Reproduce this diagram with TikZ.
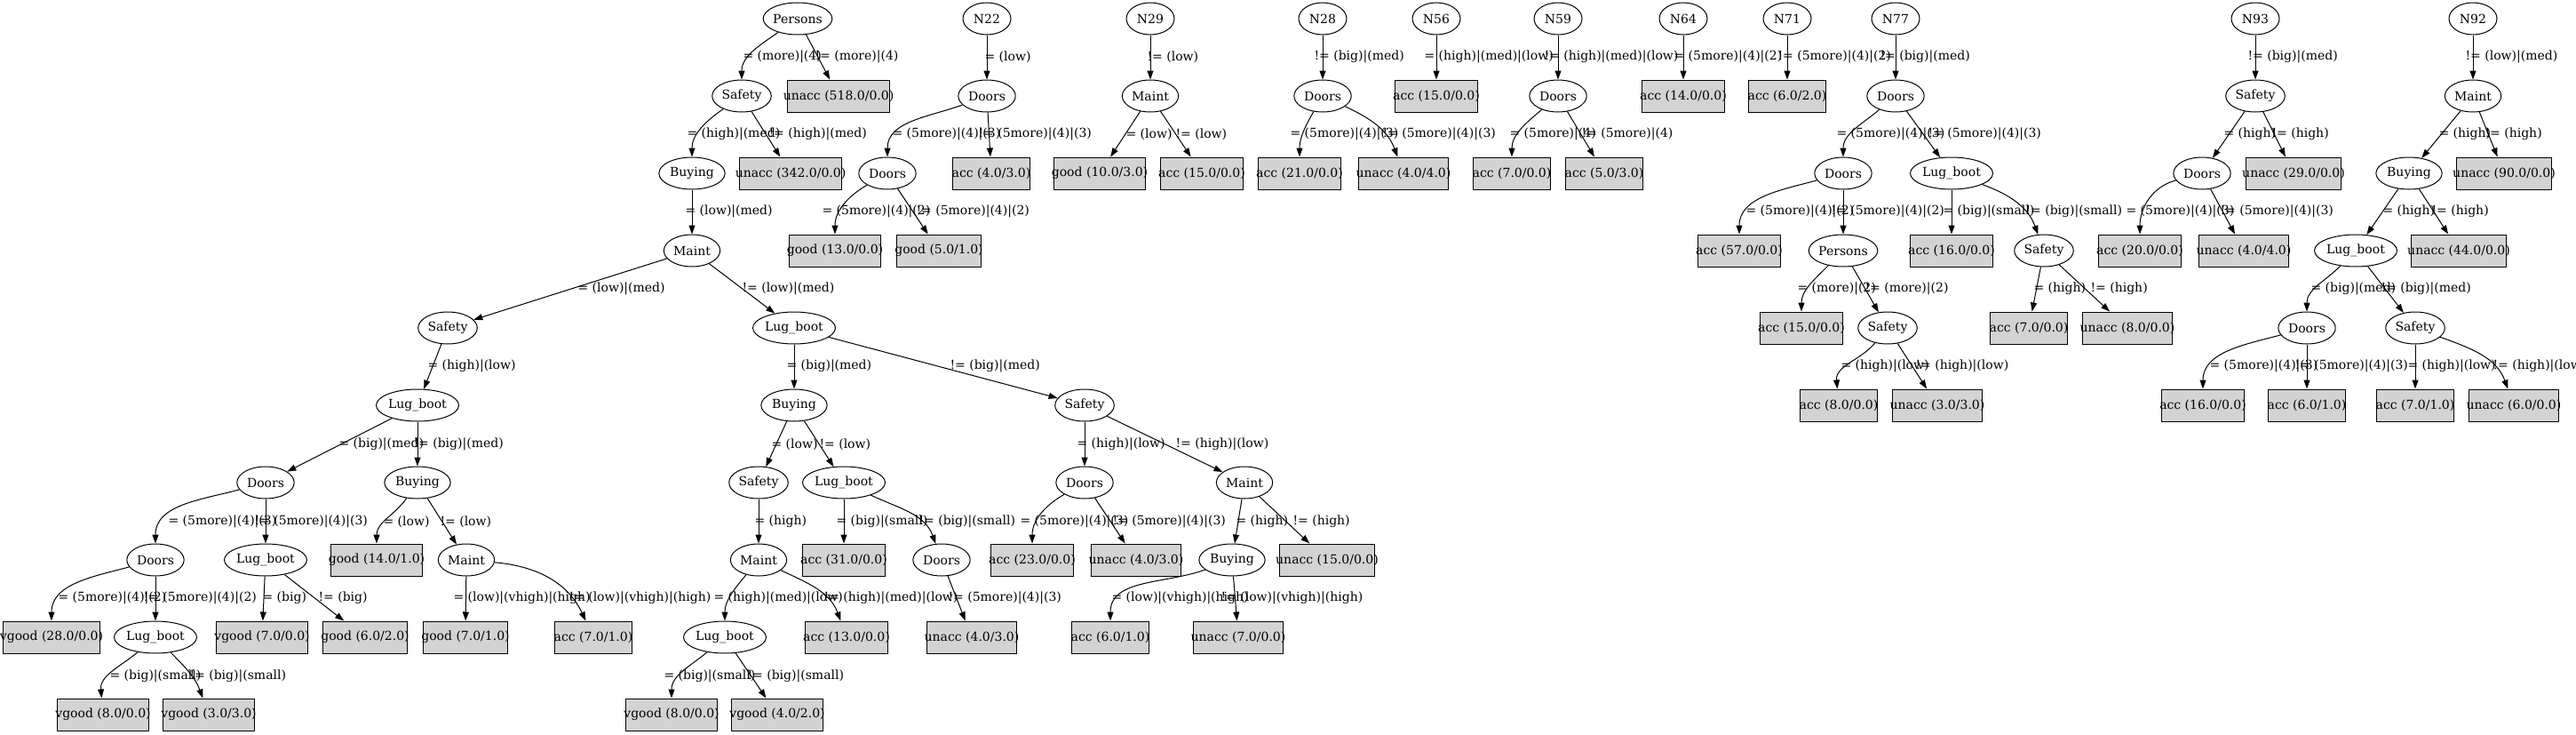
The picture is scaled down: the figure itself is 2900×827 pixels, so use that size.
\documentclass[tikz,border=0pt]{standalone}
\usepackage{fontspec}
\setmainfont{DejaVu Serif}
\newfontfamily\gvmetric{Liberation Serif}
\usetikzlibrary{arrows.meta,shapes.geometric}
\definecolor{LeafFill}{HTML}{D3D3D3}
\newlength{\gvwd}
% box width taken from the Times estimate, text may hang over
\newcommand{\gv}[1]{\settowidth{\gvwd}{\gvmetric #1}\makebox[\gvwd][c]{#1}}

\begin{document}
\begin{tikzpicture}[
  x=1bp, y=-1bp,
  every node/.style={font=\fontsize{14bp}{16bp}\selectfont},
  st/.style={ellipse, draw, line width=1bp, inner xsep=5.66bp, inner ysep=0pt,
             minimum width=54bp, minimum height=36bp},
  lf/.style={rectangle, draw, line width=1bp, fill=LeafFill, inner xsep=8bp,
             inner ysep=0pt, minimum height=36bp},
  lbl/.style={anchor=west, inner sep=0pt},
  edge/.style={->, line width=1bp},
  >={Triangle[length=10bp,width=7bp]}]
  \useasboundingbox (0,0) rectangle (2900,827);

  % tree rooted at Persons
  \node[st] (aPer)  at (898,21)  {\gv{Persons}};
  \node[st] (aSaf)  at (835,108) {\gv{Safety}};
  \node[lf] (aU518) at (944,108) {\gv{unacc (518.0/0.0)}};
  \node[st] (aBuy)  at (779,195) {\gv{Buying}};
  \node[lf] (aU342) at (890,195) {\gv{unacc (342.0/0.0)}};
  \node[st] (aMnt)  at (779,282) {\gv{Maint}};
  \node[st] (aSafL) at (504,369) {\gv{Safety}};
  \node[st] (aLug)  at (894,369) {\gv{Lug\_boot}};
  \node[st] (aLugL) at (470,456) {\gv{Lug\_boot}};
  \node[st] (aDrs)  at (299,543) {\gv{Doors}};
  \node[st] (aBuyL) at (470,543) {\gv{Buying}};
  \node[st] (aDrs2) at (175,630) {\gv{Doors}};
  \node[st] (aLug2) at (299,630) {\gv{Lug\_boot}};
  \node[lf] (aG14)  at (424,630) {\gv{good (14.0/1.0)}};
  \node[st] (aMntL) at (525,630) {\gv{Maint}};
  \node[lf] (aV28)  at (58,717)  {\gv{vgood (28.0/0.0)}};
  \node[st] (aLug3) at (175,717) {\gv{Lug\_boot}};
  \node[lf] (aV7)   at (295,717) {\gv{vgood (7.0/0.0)}};
  \node[lf] (aG6)   at (411,717) {\gv{good (6.0/2.0)}};
  \node[lf] (aG7)   at (524,717) {\gv{good (7.0/1.0)}};
  \node[lf] (aA7)   at (668,717) {\gv{acc (7.0/1.0)}};
  \node[lf] (aV8)   at (116,804) {\gv{vgood (8.0/0.0)}};
  \node[lf] (aV3)   at (235,804) {\gv{vgood (3.0/3.0)}};
  \node[st] (aBuyR) at (894,456)  {\gv{Buying}};
  \node[st] (aSafR) at (1221,456) {\gv{Safety}};
  \node[st] (aSaf4) at (854,543)  {\gv{Safety}};
  \node[st] (aLug5) at (950,543)  {\gv{Lug\_boot}};
  \node[st] (aDrs3) at (1221,543) {\gv{Doors}};
  \node[st] (aMnt3) at (1401,543) {\gv{Maint}};
  \node[st] (aMnt4) at (854,630)  {\gv{Maint}};
  \node[lf] (aA31)  at (950,630)  {\gv{acc (31.0/0.0)}};
  \node[st] (aDrs4) at (1060,630) {\gv{Doors}};
  \node[lf] (aA23)  at (1162,630) {\gv{acc (23.0/0.0)}};
  \node[lf] (aU4a)  at (1279,630) {\gv{unacc (4.0/3.0)}};
  \node[st] (aBuy4) at (1387,630) {\gv{Buying}};
  \node[lf] (aU15)  at (1494,630) {\gv{unacc (15.0/0.0)}};
  \node[st] (aLug6) at (816,717)  {\gv{Lug\_boot}};
  \node[lf] (aA13)  at (953,717)  {\gv{acc (13.0/0.0)}};
  \node[lf] (aU4b)  at (1094,717) {\gv{unacc (4.0/3.0)}};
  \node[lf] (aA6)   at (1250,717) {\gv{acc (6.0/1.0)}};
  \node[lf] (aU7)   at (1394,717) {\gv{unacc (7.0/0.0)}};
  \node[lf] (aV8b)  at (756,804)  {\gv{vgood (8.0/0.0)}};
  \node[lf] (aV4)   at (875,804)  {\gv{vgood (4.0/2.0)}};

  \draw[edge] (aPer) to[out=215,in=90] (aSaf) node[lbl] (la1) at (836,64) {= (more)|(4)};
  \draw[edge] (aPer) -- (aU518) node[lbl] (la2) at (917,64) {!= (more)|(4)};
  \draw[edge] (aSaf) to[out=215,in=90] (aBuy) node[lbl] (la3) at (773,151) {= (high)|(med)};
  \draw[edge] (aSaf) -- (aU342) node[lbl] (la4) at (865,151) {!= (high)|(med)};
  \draw[edge] (aBuy) -- (aMnt) node[lbl] (la5) at (771,238) {= (low)|(med)};
  \draw[edge] (aMnt) -- (aSafL) node[lbl] (la6) at (650,325) {= (low)|(med)};
  \draw[edge] (aMnt) -- (aLug) node[lbl] (la7) at (835,325) {!= (low)|(med)};
  \draw[edge] (aSafL) -- (aLugL) node[lbl] (la8) at (481,412) {= (high)|(low)};
  \draw[edge] (aLug) -- (aBuyR) node[lbl] (la9) at (885,412) {= (big)|(med)};
  \draw[edge] (aLug) -- (aSafR) node[lbl] (la10) at (1069,412) {!= (big)|(med)};
  \draw[edge] (aLugL) -- (aDrs) node[lbl] (la11) at (381,500) {= (big)|(med)};
  \draw[edge] (aLugL) -- (aBuyL) node[lbl] (la12) at (465,500) {!= (big)|(med)};
  \draw[edge] (aBuyR) -- (aSaf4) node[lbl] (la13) at (868,500) {= (low)};
  \draw[edge] (aBuyR) -- (aLug5) node[lbl] (la14) at (922,500) {!= (low)};
  \draw[edge] (aSafR) -- (aDrs3) node[lbl] (la15) at (1212,500) {= (high)|(low)};
  \draw[edge] (aSafR) -- (aMnt3) node[lbl] (la16) at (1323,500) {!= (high)|(low)};
  \draw[edge] (aDrs) to[out=195,in=90] (aDrs2) node[lbl] (la17) at (189,587) {= (5more)|(4)|(3)};
  \draw[edge] (aDrs) -- (aLug2) node[lbl] (la18) at (286,587) {!= (5more)|(4)|(3)};
  \draw[edge] (aBuyL) to[out=235,in=90] (aG14) node[lbl] (la19) at (431,587) {= (low)};
  \draw[edge] (aBuyL) -- (aMntL) node[lbl] (la20) at (495,587) {!= (low)};
  \draw[edge] (aSaf4) -- (aMnt4) node[lbl] (la21) at (849,587) {= (high)};
  \draw[edge] (aLug5) -- (aA31) node[lbl] (la22) at (941,587) {= (big)|(small)};
  \draw[edge] (aLug5) to[out=-25,in=110] (aDrs4) node[lbl] (la23) at (1034,587) {!= (big)|(small)};
  \draw[edge] (aDrs3) to[out=210,in=90] (aA23) node[lbl] (la24) at (1148,587) {= (5more)|(4)|(3)};
  \draw[edge] (aDrs3) -- (aU4a) node[lbl] (la25) at (1252,587) {!= (5more)|(4)|(3)};
  \draw[edge] (aMnt3) -- (aBuy4) node[lbl] (la26) at (1391,587) {= (high)};
  \draw[edge] (aMnt3) -- (aU15) node[lbl] (la27) at (1455,587) {!= (high)};
  \draw[edge] (aDrs2) to[out=195,in=90] (aV28) node[lbl] (la28) at (65,673) {= (5more)|(4)|(2)};
  \draw[edge] (aDrs2) -- (aLug3) node[lbl] (la29) at (161,673) {!= (5more)|(4)|(2)};
  \draw[edge] (aLug2) -- (aV7) node[lbl] (la30) at (295,673) {= (big)};
  \draw[edge] (aLug2) -- (aG6) node[lbl] (la31) at (358,673) {!= (big)};
  \draw[edge] (aMntL) -- (aG7) node[lbl] (la32) at (510,673) {= (low)|(vhigh)|(high)};
  \draw[edge] (aMntL) to[out=-5,in=115] (aA7) node[lbl] (la33) at (640,673) {!= (low)|(vhigh)|(high)};
  \draw[edge] (aMnt4) to[out=230,in=90] (aLug6) node[lbl] (la34) at (803,673) {= (high)|(med)|(low)};
  \draw[edge] (aMnt4) to[out=-25,in=110] (aA13) node[lbl] (la35) at (927,673) {!= (high)|(med)|(low)};
  \draw[edge] (aDrs4) -- (aU4b) node[lbl] (la36) at (1067,673) {!= (5more)|(4)|(3)};
  \draw[edge] (aBuy4) to[out=200,in=90] (aA6) node[lbl] (la37) at (1251,673) {= (low)|(vhigh)|(high)};
  \draw[edge] (aBuy4) -- (aU7) node[lbl] (la38) at (1374,673) {!= (low)|(vhigh)|(high)};
  \draw[edge] (aLug3) to[out=220,in=95] (aV8) node[lbl] (la39) at (123,761) {= (big)|(small)};
  \draw[edge] (aLug3) to[out=-45,in=110] (aV3) node[lbl] (la40) at (213,761) {!= (big)|(small)};
  \draw[edge] (aLug6) to[out=220,in=90] (aV8b) node[lbl] (la41) at (747,761) {= (big)|(small)};
  \draw[edge] (aLug6) -- (aV4) node[lbl] (la42) at (841,761) {!= (big)|(small)};

  % N22
  \node[st] (bRoot) at (1111,21)  {\gv{N22}};
  \node[st] (bDrs)  at (1111,108) {\gv{Doors}};
  \node[st] (bDrs2) at (999,195)  {\gv{Doors}};
  \node[lf] (bA4)   at (1116,195) {\gv{acc (4.0/3.0)}};
  \node[lf] (bG13)  at (940,282)  {\gv{good (13.0/0.0)}};
  \node[lf] (bG5)   at (1057,282) {\gv{good (5.0/1.0)}};
  \draw[edge] (bRoot) -- (bDrs) node[lbl] (lb1) at (1108,64) {= (low)};
  \draw[edge] (bDrs) to[out=200,in=90] (bDrs2) node[lbl] (lb2) at (1004,151) {= (5more)|(4)|(3)};
  \draw[edge] (bDrs) -- (bA4) node[lbl] (lb3) at (1101,151) {!= (5more)|(4)|(3)};
  \draw[edge] (bDrs2) to[out=210,in=90] (bG13) node[lbl] (lb4) at (925,238) {= (5more)|(4)|(2)};
  \draw[edge] (bDrs2) -- (bG5) node[lbl] (lb5) at (1031,238) {!= (5more)|(4)|(2)};

  % N29
  \node[st] (cRoot) at (1295,21)  {\gv{N29}};
  \node[st] (cMnt)  at (1295,108) {\gv{Maint}};
  \node[lf] (cG10)  at (1238,195) {\gv{good (10.0/3.0)}};
  \node[lf] (cA15)  at (1353,195) {\gv{acc (15.0/0.0)}};
  \draw[edge] (cRoot) -- (cMnt) node[lbl] (lc1) at (1291,64) {!= (low)};
  \draw[edge] (cMnt) -- (cG10) node[lbl] (lc2) at (1267,151) {= (low)};
  \draw[edge] (cMnt) -- (cA15) node[lbl] (lc3) at (1323,151) {!= (low)};

  % N28
  \node[st] (dRoot) at (1489,21)  {\gv{N28}};
  \node[st] (dDrs)  at (1489,108) {\gv{Doors}};
  \node[lf] (dA21)  at (1463,195) {\gv{acc (21.0/0.0)}};
  \node[lf] (dU4)   at (1580,195) {\gv{unacc (4.0/4.0)}};
  \draw[edge] (dRoot) -- (dDrs) node[lbl] (ld1) at (1479,64) {!= (big)|(med)};
  \draw[edge] (dDrs) to[out=240,in=90] (dA21) node[lbl] (ld2) at (1452,151) {= (5more)|(4)|(3)};
  \draw[edge] (dDrs) to[out=-25,in=110] (dU4) node[lbl] (ld3) at (1556,151) {!= (5more)|(4)|(3)};

  % N56, N59, N64, N71
  \node[st] (eRoot) at (1617,21)  {\gv{N56}};
  \node[lf] (eA15)  at (1617,108) {\gv{acc (15.0/0.0)}};
  \draw[edge] (eRoot) -- (eA15) node[lbl] (le1) at (1603,64) {= (high)|(med)|(low)};

  \node[st] (fRoot) at (1754,21)  {\gv{N59}};
  \node[st] (fDrs)  at (1754,108) {\gv{Doors}};
  \node[lf] (fA7)   at (1702,195) {\gv{acc (7.0/0.0)}};
  \node[lf] (fA5)   at (1806,195) {\gv{acc (5.0/3.0)}};
  \draw[edge] (fRoot) -- (fDrs) node[lbl] (lf1) at (1738,64) {!= (high)|(med)|(low)};
  \draw[edge] (fDrs) to[out=220,in=90] (fA7) node[lbl] (lf2) at (1699,151) {= (5more)|(4)};
  \draw[edge] (fDrs) -- (fA5) node[lbl] (lf3) at (1780,151) {!= (5more)|(4)};

  \node[st] (gRoot) at (1895,21)  {\gv{N64}};
  \node[lf] (gA14)  at (1895,108) {\gv{acc (14.0/0.0)}};
  \draw[edge] (gRoot) -- (gA14) node[lbl] (lg1) at (1884,64) {= (5more)|(4)|(2)};

  \node[st] (hRoot) at (2012,21)  {\gv{N71}};
  \node[lf] (hA6)   at (2012,108) {\gv{acc (6.0/2.0)}};
  \draw[edge] (hRoot) -- (hA6) node[lbl] (lh1) at (2001,64) {!= (5more)|(4)|(2)};

  % N77
  \node[st] (iRoot) at (2134,21)  {\gv{N77}};
  \node[st] (iDrs)  at (2134,108) {\gv{Doors}};
  \node[st] (iDrs2) at (2075,195) {\gv{Doors}};
  \node[st] (iLug)  at (2197,195) {\gv{Lug\_boot}};
  \node[lf] (iA57)  at (1958,282) {\gv{acc (57.0/0.0)}};
  \node[st] (iPer)  at (2075,282) {\gv{Persons}};
  \node[lf] (iA16)  at (2197,282) {\gv{acc (16.0/0.0)}};
  \node[st] (iSaf)  at (2301,282) {\gv{Safety}};
  \node[lf] (iA15)  at (2028,369) {\gv{acc (15.0/0.0)}};
  \node[st] (iSaf2) at (2125,369) {\gv{Safety}};
  \node[lf] (iA7)   at (2284,369) {\gv{acc (7.0/0.0)}};
  \node[lf] (iU8)   at (2395,369) {\gv{unacc (8.0/0.0)}};
  \node[lf] (iA8)   at (2070,456) {\gv{acc (8.0/0.0)}};
  \node[lf] (iU3)   at (2181,456) {\gv{unacc (3.0/3.0)}};
  \draw[edge] (iRoot) -- (iDrs) node[lbl] (li1) at (2116,64) {!= (big)|(med)};
  \draw[edge] (iDrs) to[out=220,in=90] (iDrs2) node[lbl] (li2) at (2067,151) {= (5more)|(4)|(3)};
  \draw[edge] (iDrs) -- (iLug) node[lbl] (li3) at (2170,151) {!= (5more)|(4)|(3)};
  \draw[edge] (iDrs2) to[out=195,in=90] (iA57) node[lbl] (li4) at (1965,238) {= (5more)|(4)|(2)};
  \draw[edge] (iDrs2) -- (iPer) node[lbl] (li5) at (2061,238) {!= (5more)|(4)|(2)};
  \draw[edge] (iLug) -- (iA16) node[lbl] (li6) at (2187,238) {= (big)|(small)};
  \draw[edge] (iLug) to[out=-20,in=110] (iSaf) node[lbl] (li7) at (2280,238) {!= (big)|(small)};
  \draw[edge] (iPer) to[out=225,in=90] (iA15) node[lbl] (li8) at (2023,325) {= (more)|(2)};
  \draw[edge] (iPer) -- (iSaf2) node[lbl] (li9) at (2099,325) {!= (more)|(2)};
  \draw[edge] (iSaf) -- (iA7) node[lbl] (li10) at (2289,325) {= (high)};
  \draw[edge] (iSaf) -- (iU8) node[lbl] (li11) at (2353,325) {!= (high)};
  \draw[edge] (iSaf2) to[out=230,in=95] (iA8) node[lbl] (li12) at (2072,412) {= (high)|(low)};
  \draw[edge] (iSaf2) -- (iU3) node[lbl] (li13) at (2156,412) {!= (high)|(low)};

  % N93
  \node[st] (jRoot) at (2539,21)  {\gv{N93}};
  \node[st] (jSaf)  at (2539,108) {\gv{Safety}};
  \node[st] (jDrs)  at (2479,195) {\gv{Doors}};
  \node[lf] (jU29)  at (2582,195) {\gv{unacc (29.0/0.0)}};
  \node[lf] (jA20)  at (2409,282) {\gv{acc (20.0/0.0)}};
  \node[lf] (jU4)   at (2526,282) {\gv{unacc (4.0/4.0)}};
  \draw[edge] (jRoot) -- (jSaf) node[lbl] (lj1) at (2530,64) {!= (big)|(med)};
  \draw[edge] (jSaf) -- (jDrs) node[lbl] (lj2) at (2503,151) {= (high)};
  \draw[edge] (jSaf) -- (jU29) node[lbl] (lj3) at (2557,151) {!= (high)};
  \draw[edge] (jDrs) to[out=195,in=90] (jA20) node[lbl] (lj4) at (2393,238) {= (5more)|(4)|(3)};
  \draw[edge] (jDrs) -- (jU4) node[lbl] (lj5) at (2499,238) {!= (5more)|(4)|(3)};

  % N92
  \node[st] (kRoot) at (2784,21)  {\gv{N92}};
  \node[st] (kMnt)  at (2784,108) {\gv{Maint}};
  \node[st] (kBuy)  at (2712,195) {\gv{Buying}};
  \node[lf] (kU90)  at (2819,195) {\gv{unacc (90.0/0.0)}};
  \node[st] (kLug)  at (2652,282) {\gv{Lug\_boot}};
  \node[lf] (kU44)  at (2768,282) {\gv{unacc (44.0/0.0)}};
  \node[st] (kDrs)  at (2597,369) {\gv{Doors}};
  \node[st] (kSaf)  at (2719,369) {\gv{Safety}};
  \node[lf] (kA16)  at (2480,456) {\gv{acc (16.0/0.0)}};
  \node[lf] (kA6)   at (2597,456) {\gv{acc (6.0/1.0)}};
  \node[lf] (kA7)   at (2719,456) {\gv{acc (7.0/1.0)}};
  \node[lf] (kU6)   at (2830,456) {\gv{unacc (6.0/0.0)}};
  \draw[edge] (kRoot) -- (kMnt) node[lbl] (lk1) at (2775,64) {!= (low)|(med)};
  \draw[edge] (kMnt) -- (kBuy) node[lbl] (lk2) at (2745,151) {= (high)};
  \draw[edge] (kMnt) -- (kU90) node[lbl] (lk3) at (2797,151) {!= (high)};
  \draw[edge] (kBuy) -- (kLug) node[lbl] (lk4) at (2682,238) {= (high)};
  \draw[edge] (kBuy) -- (kU44) node[lbl] (lk5) at (2737,238) {!= (high)};
  \draw[edge] (kLug) to[out=225,in=90] (kDrs) node[lbl] (lk6) at (2601,325) {= (big)|(med)};
  \draw[edge] (kLug) -- (kSaf) node[lbl] (lk7) at (2680,325) {!= (big)|(med)};
  \draw[edge] (kDrs) to[out=195,in=90] (kA16) node[lbl] (lk8) at (2487,412) {= (5more)|(4)|(3)};
  \draw[edge] (kDrs) -- (kA6) node[lbl] (lk9) at (2583,412) {!= (5more)|(4)|(3)};
  \draw[edge] (kSaf) -- (kA7) node[lbl] (lk10) at (2710,412) {= (high)|(low)};
  \draw[edge] (kSaf) to[out=-20,in=110] (kU6) node[lbl] (lk11) at (2806,412) {!= (high)|(low)};
\end{tikzpicture}
\end{document}
